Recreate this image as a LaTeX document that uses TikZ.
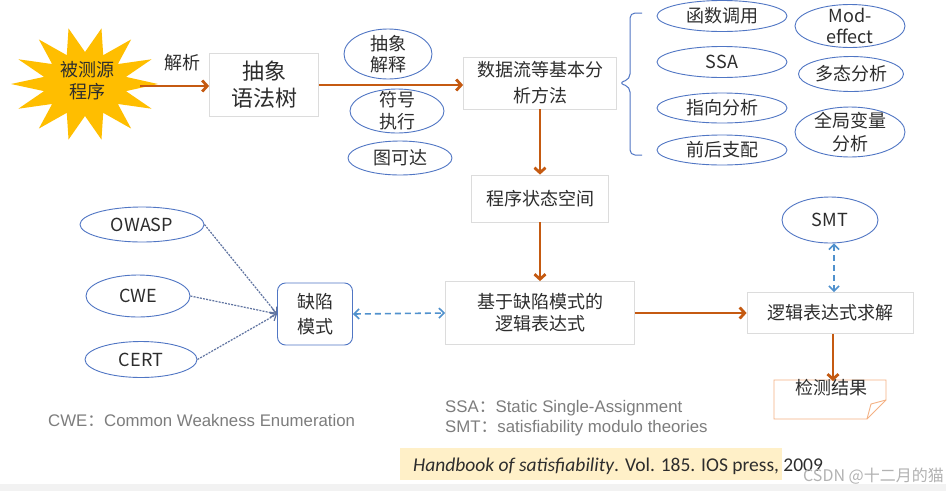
\documentclass[tikz,border=0pt]{standalone}
\usepackage{fontspec}
\setmainfont{Liberation Sans}
\newfontfamily\cjk{Noto Sans CJK SC}
\newfontfamily\carl{Carlito}
\usetikzlibrary{arrows.meta,shapes.geometric,calc}
\definecolor{arr}{RGB}{197,90,17}
\definecolor{ell}{RGB}{80,118,196}
\definecolor{boxg}{RGB}{220,220,220}
\definecolor{txt}{RGB}{45,45,45}
\definecolor{note}{RGB}{125,125,125}
\definecolor{dsh}{RGB}{80,145,205}
\definecolor{dot}{RGB}{95,115,160}
\definecolor{hl}{RGB}{255,240,200}
\definecolor{starcol}{RGB}{255,190,0}
\definecolor{docc}{RGB}{244,177,131}
\begin{document}
\begin{tikzpicture}[x=1pt,y=-1pt,
  lbl/.style={font=\cjk\fontsize{18}{21}\selectfont, text=txt, align=center, inner sep=0},
  sbox/.style={draw=boxg, line width=0.8pt, fill=white, align=center, inner sep=0, text=txt},
  ov/.style={draw=ell, ellipse, line width=0.9pt, inner sep=0},
  flow/.style={draw=arr, line width=2.8pt, -{Straight Barb[length=5pt,width=11pt]}},
  dotarr/.style={draw=dot, line width=1.2pt, dash pattern=on 2pt off 1.2pt, -{Straight Barb[length=5pt,width=9pt]}},
  dsharr/.style={draw=dsh, line width=1.6pt, dash pattern=on 6pt off 4pt, {Straight Barb[length=5pt,width=10pt]}-{Straight Barb[length=5pt,width=10pt]}},
  fn/.style={font=\fontsize{16.8}{20}\selectfont, text=note, anchor=west, inner sep=0}
]
\useasboundingbox (0,0) rectangle (946,491);
\fill[white] (0,0) rectangle (946,491);
\fill[black!5] (0,484) rectangle (946,491);

% starburst
\fill[starcol] (158,84) \foreach \i in {1,...,27}{ -- ({85+cos(\i*360/28)*(mod(\i,2)==0?74:42)}, {84+sin(\i*360/28)*(mod(\i,2)==0?57:32)}) } -- cycle;
\node[lbl, font=\cjk\fontsize{18}{22}\selectfont] (src) at (87,81) {被测源\\程序};
\coordinate (srcE) at (140,86);

% boxes
\node[sbox, minimum width=109, minimum height=63, font=\cjk\fontsize{22}{27}\selectfont] (ast) at (264,85) {抽象\\语法树};
\node[sbox, minimum width=153, minimum height=52, font=\cjk\fontsize{18}{26}\selectfont] (df) at (540,83) {数据流等基本分\\析方法};
\node[sbox, minimum width=137, minimum height=47, font=\cjk\fontsize{18}{21}\selectfont] (pss) at (540,198.5) {程序状态空间};
\node[sbox, minimum width=189, minimum height=63, font=\cjk\fontsize{18}{22}\selectfont] (expr) at (540,313) {基于缺陷模式的\\逻辑表达式};
\node[sbox, minimum width=166, minimum height=41, font=\cjk\fontsize{18}{22}\selectfont] (solve) at (830,313) {逻辑表达式求解};
\node[draw=ell, line width=0.9pt, rounded corners=8, minimum width=75, minimum height=62, inner sep=0, align=center, text=txt, font=\cjk\fontsize{18}{25}\selectfont] (def) at (315,314) {缺陷\\模式};

% ellipses middle
\node[ov, minimum width=88, minimum height=50, label={[lbl]center:抽象\\解释}] (ai) at (388,54) {};
\node[ov, minimum width=94, minimum height=44, label={[lbl, font=\cjk\fontsize{18}{22}\selectfont]center:符号\\执行}] (se) at (397,111) {};
\node[ov, minimum width=104, minimum height=34, label={[lbl]center:图可达}] (gr) at (400,158) {};

% ellipses right
\node[ov, minimum width=130, minimum height=31, label={[lbl]center:函数调用}] (fc) at (722,16) {};
\node[ov, minimum width=130, minimum height=31, label={[lbl]center:SSA}] (ssa) at (722,62) {};
\node[ov, minimum width=130, minimum height=30, label={[lbl]center:指向分析}] (pa) at (722,108) {};
\node[ov, minimum width=130, minimum height=30, label={[lbl]center:前后支配}] (dom) at (722,150) {};
\node[ov, minimum width=110, minimum height=43, label={[lbl]center:Mod-\\effect}] (mod) at (850,26) {};
\node[ov, minimum width=105, minimum height=35, label={[lbl]center:多态分析}] (poly) at (851,74) {};
\node[ov, minimum width=110, minimum height=50, label={[lbl, font=\cjk\fontsize{18}{23}\selectfont]center:全局变量\\分析}] (glob) at (850,132) {};

% brace
\draw[ell, line width=1pt, rounded corners=5] (642,13) -- (630,13) -- (630,79) -- (619,83) -- (630,87) -- (630,155) -- (642,155);

% left ellipses
\node[ov, minimum width=124, minimum height=35, label={[lbl]center:OWASP}] (owasp) at (142,224.5) {};
\node[ov, minimum width=104, minimum height=42, label={[lbl]center:CWE}] (cwe) at (138,296) {};
\node[ov, minimum width=112, minimum height=36, label={[lbl]center:CERT}] (cert) at (141,359.5) {};

% SMT
\node[ov, minimum width=96, minimum height=46, label={[lbl]center:SMT}] (smt) at (830,220) {};

% result document
\draw[docc, line width=0.9pt, fill=white] (774,380) -- (886,380) -- (886,400) -- (867,419) -- (774,419) -- cycle;
\draw[docc, line width=0.9pt] (867,419) -- (871,404) -- (886,400);
\coordinate (res) at (833,381);

% flows
\draw[flow] (srcE) -- (ast.west |- srcE);
\node[lbl] (jx) at (182,63) {解析};
\draw[flow] (ast.east) -- (ast.east -| df.west);
\draw[flow] (df.south) -- (pss.north);
\draw[flow] (pss.south) -- (expr.north);
\draw[flow] (expr.east) -- (solve.west);
\draw[flow] (solve.south -| res) -- (res);
\node[lbl] (resT) at (831,388) {检测结果};

% dotted / dashed
\draw[dotarr] (owasp.east) -- (def.west);
\draw[dotarr] (cwe.east) -- (def.west);
\draw[dotarr] (cert.east) -- (def.west);
\draw[dsharr] (def.east) -- (expr.west);
\draw[dsharr] ($(smt.south)+(4,0)$) -- ($(solve.north)+(4,0)$);

% footnotes
\node[fn] (n1) at (48,420) {CWE{\cjk ：}Common Weakness Enumeration};
\node[fn] (n2) at (445,408) {SSA{\cjk ：}Static Single-Assignment};
\node[fn] (n3) at (445,428) {SMT{\cjk ：}satisfiability modulo theories};

% reference
\fill[hl] (400,448) rectangle (782,480);
\node[anchor=west, inner sep=0, text=txt, font=\carl\fontsize{19.5}{22}\selectfont] (ref) at (413,466) {\textit{Handbook of satisfiability}. Vol. 185. IOS press, 2009};
\node[anchor=east, inner sep=0, text=black!30, font=\cjk\fontsize{16}{18}\selectfont] (wm) at (944,476) {CSDN @十二月的猫};
\end{tikzpicture}
\end{document}
